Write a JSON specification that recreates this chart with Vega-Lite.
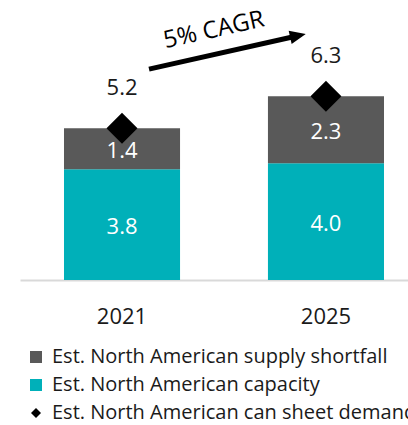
{
  "$schema": "https://vega.github.io/schema/vega-lite/v6.json",
  "width": 388,
  "height": 280,
  "autosize": "none",
  "padding": {"left": 20, "top": 0, "right": 0, "bottom": 145},
  "config": {"view": {"stroke": null}, "font": "Open Sans"},
  "datasets": {
    "main": [
      {"year": "2021", "series": "Est. North American capacity", "ord": 1, "value": 3.8},
      {"year": "2021", "series": "Est. North American supply shortfall", "ord": 2, "value": 1.4},
      {"year": "2025", "series": "Est. North American capacity", "ord": 1, "value": 4.0},
      {"year": "2025", "series": "Est. North American supply shortfall", "ord": 2, "value": 2.3}
    ],
    "demand": [
      {"year": "2021", "series": "Est. North American can sheet demand", "value": 5.2},
      {"year": "2025", "series": "Est. North American can sheet demand", "value": 6.3}
    ],
    "arrow": [
      {"year": "2021", "year2": "2025", "value": 7.23, "value2": 8.375, "label": "5% CAGR", "labelValue": 8.56}
    ]
  },
  "encoding": {
    "x": {
      "field": "year",
      "type": "nominal",
      "scale": {"domain": ["2021", "2025"], "paddingInner": 0.431, "paddingOuter": 0.1667, "align": 0.647},
      "axis": {
        "title": null,
        "labelAngle": 0,
        "ticks": false,
        "domainColor": "#d9d9d9",
        "domainWidth": 2,
        "labelFontSize": 22,
        "labelColor": "#1a1a1a",
        "labelPadding": 26
      }
    }
  },
  "layer": [
    {
      "data": {"name": "main"},
      "mark": {"type": "bar"},
      "encoding": {
        "y": {"field": "value", "type": "quantitative", "stack": "zero", "scale": {"domain": [0, 9.6], "nice": false, "zero": true}, "axis": null},
        "color": {
          "field": "series",
          "type": "nominal",
          "scale": {
            "domain": ["Est. North American supply shortfall", "Est. North American capacity", "Est. North American can sheet demand"],
            "range": ["#595959", "#00b0b9", "#000000"]
          },
          "legend": {
            "title": null,
            "orient": "none",
            "legendX": 6,
            "legendY": 347,
            "direction": "vertical",
            "labelFontSize": 20,
            "labelColor": "#1a1a1a",
            "labelLimit": 600,
            "symbolType": "square",
            "symbolSize": 144,
            "symbolStrokeWidth": 0,
            "rowPadding": 8,
            "labelOffset": 6,
            "encode": {
              "symbols": {
                "update": {
                  "shape": {"signal": "datum.value === 'Est. North American can sheet demand' ? 'diamond' : 'square'"},
                  "size": {"signal": "datum.value === 'Est. North American can sheet demand' ? 100 : 144"}
                }
              }
            }
          }
        },
        "order": {"field": "ord", "type": "quantitative"}
      }
    },
    {
      "data": {"name": "main"},
      "transform": [
        {"stack": "value", "groupby": ["year"], "sort": [{"field": "ord"}], "as": ["v0", "v1"]},
        {"calculate": "(datum.v0 + datum.v1) / 2", "as": "mid"}
      ],
      "mark": {"type": "text", "color": "white", "fontSize": 22, "dy": 2},
      "encoding": {
        "y": {"field": "mid", "type": "quantitative"},
        "text": {"field": "value", "type": "quantitative", "format": ".1f"}
      }
    },
    {
      "data": {"name": "demand"},
      "mark": {"type": "point", "shape": "diamond", "filled": true, "color": "#000000", "size": 960, "opacity": 1},
      "encoding": {
        "y": {"field": "value", "type": "quantitative", "stack": null}
      }
    },
    {
      "data": {"name": "demand"},
      "mark": {"type": "text", "color": "#1a1a1a", "fontSize": 22, "dy": -40},
      "encoding": {
        "y": {"field": "value", "type": "quantitative", "stack": null},
        "text": {"field": "value", "type": "quantitative", "format": ".1f"}
      }
    },
    {
      "data": {"name": "arrow"},
      "mark": {"type": "rule", "color": "#000000", "strokeWidth": 5, "xOffset": 27, "x2Offset": -28},
      "encoding": {
        "y": {"field": "value", "type": "quantitative"},
        "x2": {"field": "year2"},
        "y2": {"field": "value2"}
      }
    },
    {
      "data": {"name": "arrow"},
      "mark": {"type": "point", "shape": "M-1,-0.85L1,0L-1,0.85Z", "filled": true, "color": "#000000", "opacity": 1, "size": 256, "angle": 347.4, "xOffset": -28},
      "encoding": {
        "x": {"field": "year2", "type": "nominal"},
        "y": {"field": "value2", "type": "quantitative"}
      }
    },
    {
      "data": {"name": "arrow"},
      "mark": {"type": "text", "color": "#000000", "fontSize": 24, "angle": 347.4, "xOffset": 92},
      "encoding": {
        "y": {"field": "labelValue", "type": "quantitative"},
        "text": {"field": "label"}
      }
    }
  ]
}
